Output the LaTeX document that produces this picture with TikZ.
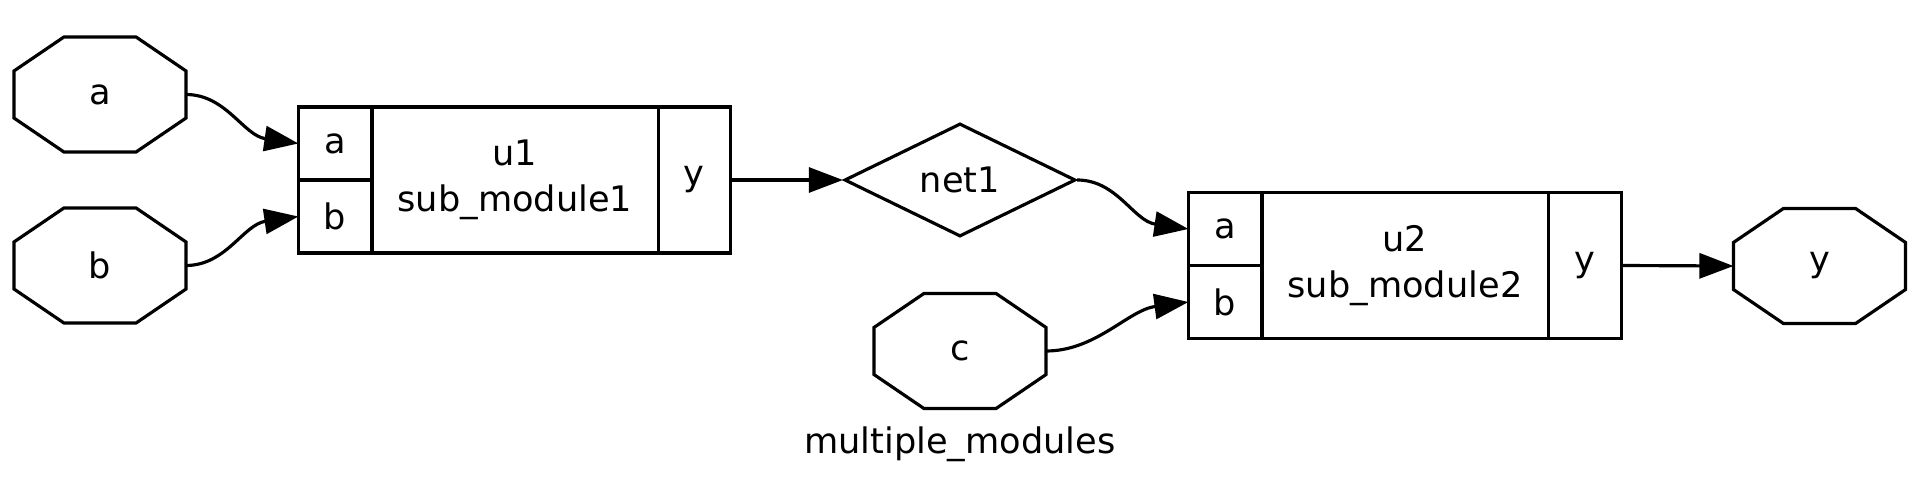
\documentclass[tikz,border=0pt]{standalone}
\usepackage{fontspec}
\setmainfont{DejaVu Sans}
\usetikzlibrary{arrows.meta,positioning,shapes.geometric}

\begin{document}
\begin{tikzpicture}[x=.01cm,y=-.01cm,>={Triangle[length=.34cm,width=.25cm]},
 line width=.9pt,font=\fontsize{10}{13}\selectfont,
 io/.style={minimum width=1.72cm,minimum height=1.15cm,inner sep=0pt,outer sep=0pt},
 body/.style={draw,align=center,inner sep=0pt,outer sep=0pt,minimum width=2.86cm,minimum height=1.46cm},
 pin/.style={draw,inner sep=0pt,outer sep=0pt,minimum width=.735cm,minimum height=.73cm},
 net/.style={draw,diamond,aspect=2,inner sep=0pt,minimum width=2.31cm,minimum height=1.13cm}]
 \useasboundingbox[fill=white] (0,0) rectangle (1914,491);
 % ports of the top module
 \node[io] (in_a) at (100,94.5) {a};
 \node[io] (in_b) at (100,265.5) {b};
 \node[io] (in_c) at (960,351) {c};
 \node[io] (out_y) at (1819.5,266) {y};
 \foreach \n in {in_a,in_b,in_c,out_y}
  \draw ([xshift=.5cm]\n.north west)--([xshift=-.5cm]\n.north east)
   --([yshift=-.34cm]\n.north east)--([yshift=.34cm]\n.south east)
   --([xshift=-.5cm]\n.south east)--([xshift=.5cm]\n.south west)
   --([yshift=.34cm]\n.south west)--([yshift=-.34cm]\n.north west)--cycle;
 % instance u1
 \node[body] (u1) at (515,180) {u1\\sub\_module1};
 \node[pin,below left=0pt of u1.north west] (u1a) {a};
 \node[pin,below=0pt of u1a] (u1b) {b};
 \node[pin,minimum width=.72cm,minimum height=1.46cm,right=0pt of u1] (u1y) {y};
 % instance u2
 \node[body] (u2) at (1405,265.5) {u2\\sub\_module2};
 \node[pin,below left=0pt of u2.north west] (u2a) {a};
 \node[pin,below=0pt of u2a] (u2b) {b};
 \node[pin,minimum width=.73cm,minimum height=1.46cm,right=0pt of u2] (u2y) {y};
 \node[net] (net1) at (960,180) {net1};
 \node[anchor=base] (title) at (960,453) {multiple\_modules};
 \draw[->] (in_a.east) .. controls +(40,0) and +(-55,-8) .. (u1a.west);
 \draw[->] (in_b.east) .. controls +(40,0) and +(-55,8) .. (u1b.west);
 \draw[->] (u1y.east)--(net1.west);
 \draw[->] (net1.east) .. controls +(40,0) and +(-55,-8) .. (u2a.west);
 \draw[->] (in_c.east) .. controls +(50,0) and +(-60,8) .. (u2b.west);
 \draw[->] (u2y.east)--(out_y.west);
\end{tikzpicture}
\end{document}
